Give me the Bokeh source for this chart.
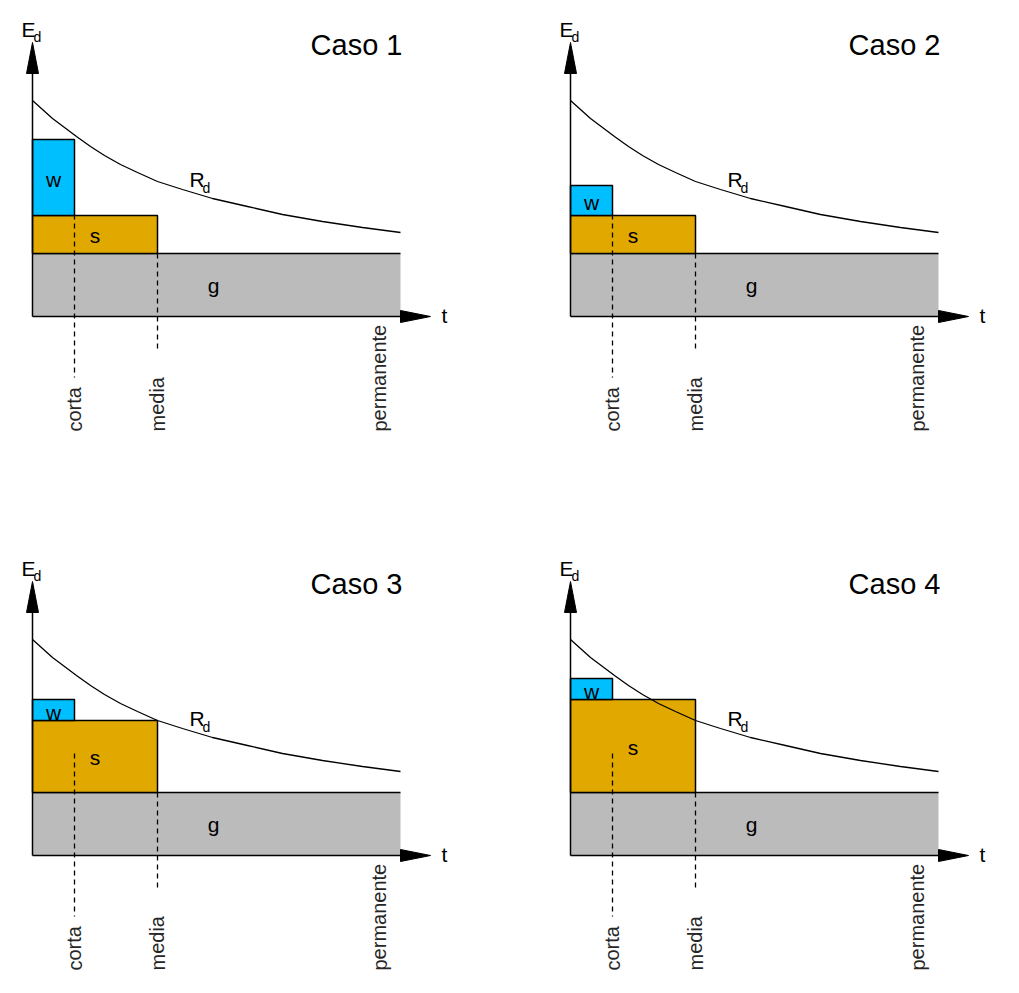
from bokeh.plotting import figure
from bokeh.layouts import column, row
from bokeh.models import ColumnDataSource
from bokeh.core.properties import value
from bokeh.embed import file_html
from bokeh.resources import INLINE

# ---- data (arbitrary units) ----
cases = ["Caso 1", "Caso 2", "Caso 3", "Caso 4"]
g_vals = [63, 63, 63, 63]          # permanent action
s_vals = [38, 38, 72, 93]          # medium-duration action
w_vals = [76, 30, 21, 21]          # short-duration action
tick_names = ["corta", "media", "permanente"]
tick_t = [42, 125, 368]            # duration classes on the time axis
tick_label_t = [42, 125, 347]
dash_top = [102, 63]
dash_bottom = [-61, -35]
# Rd(t) curve
rd_t = [0, 10, 20, 32, 44, 58, 72, 88, 105, 125, 150, 180, 215, 250, 290, 330, 368]
rd_h = [216, 207, 198, 189, 180, 170, 161, 152, 144, 135, 127, 118, 110, 102, 95, 89, 84]

FONT = value("Liberation Sans")
C_G, C_S, C_W = "#BBBBBB", "#E1A900", "#00BFFF"
Y_AXIS_END, Y_TIP = 243, 274
X_AXIS_END, X_TIP = 368, 398
HEAD = 6


def label(p, x, y, txt, size, align="left", color="black"):
    p.text(x=[x], y=[y], text=[txt], text_font=FONT, text_font_size=size,
           text_align=align, text_baseline="middle", text_color=color)


def make_panel(i, width, height, x_range, y_range):
    p = figure(width=width, height=height, x_range=x_range, y_range=y_range,
               output_backend="svg", toolbar_location=None, min_border=0,
               x_axis_location=None, y_axis_location=None,
               outline_line_color=None, background_fill_color="white",
               border_fill_color="white")
    p.xgrid.visible = False
    p.ygrid.visible = False

    g, s, w = g_vals[i], s_vals[i], w_vals[i]
    t_c, t_m, t_p = tick_t
    # boxes
    p.quad(left=[0], right=[t_p], bottom=[0], top=[g], fill_color=C_G, line_color=None)
    p.segment(x0=[0], y0=[g], x1=[t_p], y1=[g], line_color="black", line_width=1.5)
    p.quad(left=[0], right=[t_m], bottom=[g], top=[g + s], fill_color=C_S,
           line_color="black", line_width=1.5)
    p.quad(left=[0], right=[t_c], bottom=[g + s], top=[g + s + w], fill_color=C_W,
           line_color="black", line_width=1.5)

    # resistance curve
    p.line(rd_t, rd_h, line_color="black", line_width=1.3)

    # axes with arrow heads
    p.segment(x0=[0, 0], y0=[0, 0], x1=[0, X_AXIS_END], y1=[Y_AXIS_END, 0],
              line_color="black", line_width=1.5)
    p.patch(x=[-HEAD, HEAD, 0], y=[Y_AXIS_END, Y_AXIS_END, Y_TIP], color="black")
    p.patch(x=[X_AXIS_END, X_AXIS_END, X_TIP], y=[-HEAD, HEAD, 0], color="black")

    # dashed guides
    p.segment(x0=[t_c, t_m], y0=dash_top, x1=[t_c, t_m], y1=dash_bottom,
              line_color="black", line_width=1.3, line_dash="5 4")

    # box labels
    p.text(x=[t_c / 2, t_m / 2, t_p / 2 - 3],
           y=[g + s + w / 2 - 2, g + s / 2 - 1, g / 2],
           text=["w", "s", "g"], text_font=FONT, text_font_size="21px",
           text_align="center", text_baseline="middle", text_color="black")

    # tick labels (rotated)
    src = ColumnDataSource(dict(x=tick_label_t, y=[-115] * 3, t=tick_names))
    p.text(x="x", y="y", text="t", source=src, angle=1.5708, text_font=FONT,
           text_font_size="20px", text_align="left", text_baseline="middle",
           text_color="#262626")

    # axis names
    label(p, -11, 287, "E", "21px")
    label(p, 1, 280, "d", "14px")
    label(p, 412, 1, "t", "21px", align="center")
    # Rd label
    label(p, 157, 137, "R", "21px")
    label(p, 170, 129, "d", "14px")
    # case title
    label(p, 370, 272, cases[i], "29px", align="right")
    return p


W1, W2 = 538, 470
H1, H2 = 539, 445
X0 = -32
Y1 = 316
p1 = make_panel(0, W1, H1, (X0, X0 + W1), (Y1 - H1, Y1))
p2 = make_panel(1, W2, H1, (X0, X0 + W2), (Y1 - H1, Y1))
p3 = make_panel(2, W1, H2, (X0, X0 + W1), (Y1 - H2, Y1))
p4 = make_panel(3, W2, H2, (X0, X0 + W2), (Y1 - H2, Y1))

layout = column(row(p1, p2), row(p3, p4))
open("out.html", "w").write(file_html(layout, INLINE))
